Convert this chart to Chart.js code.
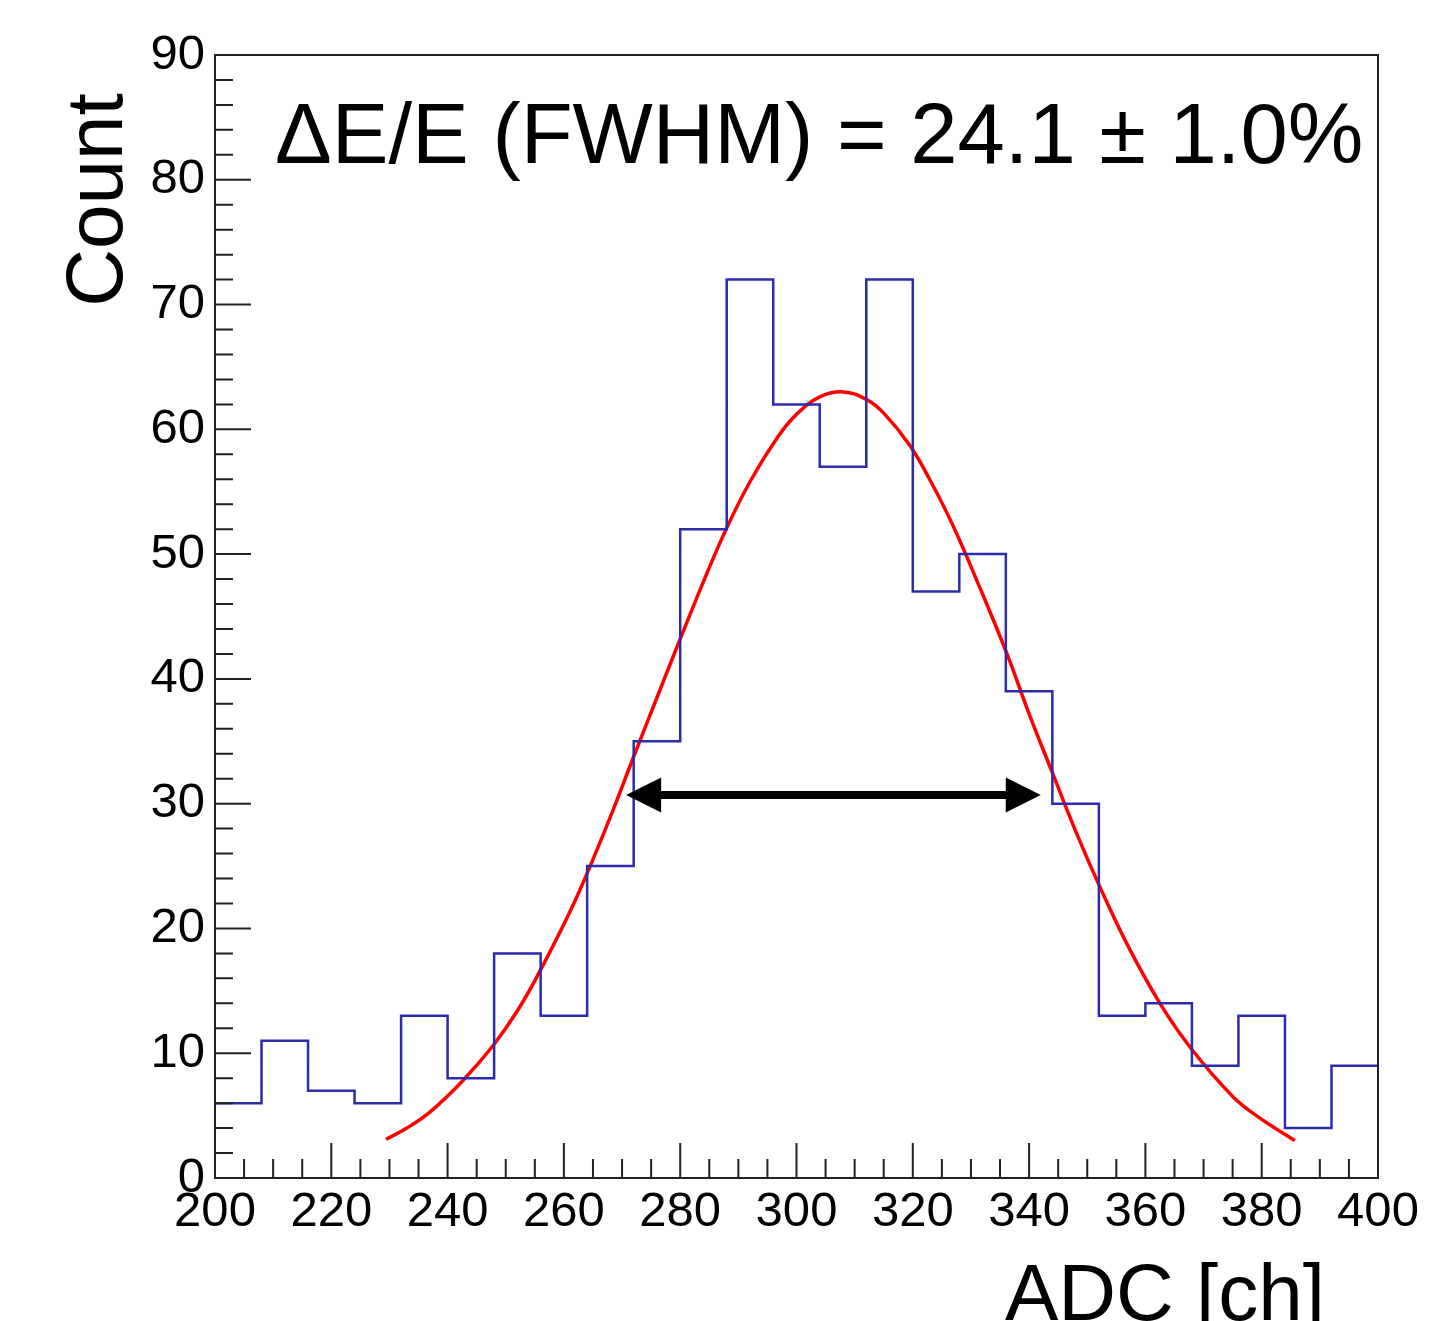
<!DOCTYPE html>
<html><head><meta charset="utf-8">
<script src="https://cdn.jsdelivr.net/npm/chart.js@4.4.1/dist/chart.umd.min.js"></script>
<style>html,body{margin:0;padding:0;background:#fff;}#wrap{width:1436px;height:1321px;}</style>
</head><body><div id="wrap"><canvas id="c" width="1436" height="1321"></canvas></div>
<script>
// ---- data ----
const binEdges = [200,208,216,224,232,240,248,256,264,272,280,288,296,304,312,320,328,336,344,352,360,368,376,384,392,400];
const binCounts = [6,11,7,6,13,8,18,13,25,35,52,72,62,57,72,47,50,39,30,13,14,9,13,4,9];
const fitX = [229.4,233,237,242.6,247.8,252,255.9,261.8,267,272.2,276,280,284,287.7,292,296.8,300,304,308,312,315,319.5,323,326.9,331,336.2,340,343.9,348,352.2,357,362.5,368,375.1,379.7,385.7];
const fitY = [3.1,4.0,5.3,7.8,10.6,13.4,16.6,22.1,27.8,34.0,38.5,43.2,47.8,51.8,55.8,59.4,61.2,62.6,63.0,62.4,61.3,58.7,55.9,52.3,47.9,42.0,37.2,32.6,27.8,23.3,18.6,14.0,10.3,6.5,4.8,3.0];
const arrowX = [270.7, 342.0];
const arrowY = 30.7;
const xRange = [200, 400];
const yRange = [0, 90];
const xMajorStep = 20, xMinorStep = 5;
const yMajorStep = 10, yMinorStep = 2;
const annotationText = 'ΔE/E (FWHM) = 24.1 ± 1.0%';
const xTitle = 'ADC [ch]';
const yTitle = 'Count';

const FONT = "'Liberation Sans', Arial, Helvetica, sans-serif";

const histPoints = binEdges.map((e, i) => ({x: e, y: binCounts[Math.min(i, binCounts.length - 1)]}));
const fitPoints = fitX.map((x, i) => ({x: x, y: fitY[i]}));

const rootStyle = {
  id: 'rootStyle',
  afterDatasetsDraw(chart) {
    const ctx = chart.ctx;
    const xs = chart.scales.x, ys = chart.scales.y;
    const a = chart.chartArea;
    ctx.save();
    // arrow
    const y = ys.getPixelForValue(arrowY);
    const x1 = xs.getPixelForValue(arrowX[0]);
    const x2 = xs.getPixelForValue(arrowX[1]);
    const hl = 35, hh = 17.5;
    ctx.strokeStyle = '#000'; ctx.fillStyle = '#000'; ctx.lineWidth = 8;
    ctx.beginPath(); ctx.moveTo(x1 + hl - 2, y); ctx.lineTo(x2 - hl + 2, y); ctx.stroke();
    ctx.beginPath(); ctx.moveTo(x1, y); ctx.lineTo(x1 + hl, y - hh); ctx.lineTo(x1 + hl, y + hh); ctx.closePath(); ctx.fill();
    ctx.beginPath(); ctx.moveTo(x2, y); ctx.lineTo(x2 - hl, y - hh); ctx.lineTo(x2 - hl, y + hh); ctx.closePath(); ctx.fill();
    // frame
    ctx.strokeStyle = '#222'; ctx.lineWidth = 2;
    ctx.strokeRect(a.left, a.top, a.right - a.left, a.bottom - a.top);
    // ticks (inside)
    ctx.beginPath();
    for (let v = yRange[0]; v <= yRange[1] + 1e-9; v += yMinorStep) {
      const p = ys.getPixelForValue(v);
      const len = (Math.abs(v % yMajorStep) < 1e-9) ? 36 : 18;
      ctx.moveTo(a.left, p); ctx.lineTo(a.left + len, p);
    }
    for (let v = xRange[0]; v <= xRange[1] + 1e-9; v += xMinorStep) {
      const p = xs.getPixelForValue(v);
      const len = (Math.abs((v - xRange[0]) % xMajorStep) < 1e-9) ? 35 : 19;
      ctx.moveTo(p, a.bottom); ctx.lineTo(p, a.bottom - len);
    }
    ctx.stroke();
    // texts
    ctx.fillStyle = '#000';
    ctx.textBaseline = 'alphabetic';
    ctx.font = '85px ' + FONT;
    ctx.textAlign = 'left';
    ctx.fillText(annotationText, 275, 163);
    ctx.font = '80px ' + FONT;
    ctx.textAlign = 'right';
    ctx.fillText(xTitle, 1325, 1320);
    ctx.save();
    ctx.translate(122, 200);
    ctx.rotate(-Math.PI / 2);
    ctx.textAlign = 'center';
    ctx.fillText(yTitle, 0, 0);
    ctx.restore();
    ctx.restore();
  }
};

new Chart(document.getElementById('c'), {
  type: 'line',
  data: {
    datasets: [
      {data: histPoints, stepped: 'before', borderColor: '#2b2bab', borderWidth: 2.5, pointRadius: 0, fill: false},
      {data: fitPoints, borderColor: '#ff0000', borderWidth: 3.5, pointRadius: 0, fill: false, tension: 0.4}
    ]
  },
  options: {
    responsive: false,
    animation: false,
    devicePixelRatio: 1,
    layout: {padding: {top: 55, right: 58, left: 0, bottom: 0}},
    plugins: {legend: {display: false}, tooltip: {enabled: false}, title: {display: false}},
    scales: {
      x: {
        type: 'linear', min: xRange[0], max: xRange[1],
        grid: {display: false, drawTicks: false},
        border: {display: false},
        afterFit(s) { s.height = 143; },
        ticks: {stepSize: xMajorStep, autoSkip: false, maxRotation: 0, minRotation: 0, padding: 5, color: '#000',
                font: {family: FONT, size: 49, lineHeight: 1.2}}
      },
      y: {
        type: 'linear', min: yRange[0], max: yRange[1],
        grid: {display: false, drawTicks: false},
        border: {display: false},
        afterFit(s) { s.width = 215; },
        ticks: {stepSize: yMajorStep, autoSkip: false, padding: 10, color: '#000',
                font: {family: FONT, size: 49, lineHeight: 1.2}}
      }
    }
  },
  plugins: [rootStyle]
});
</script></body></html>
